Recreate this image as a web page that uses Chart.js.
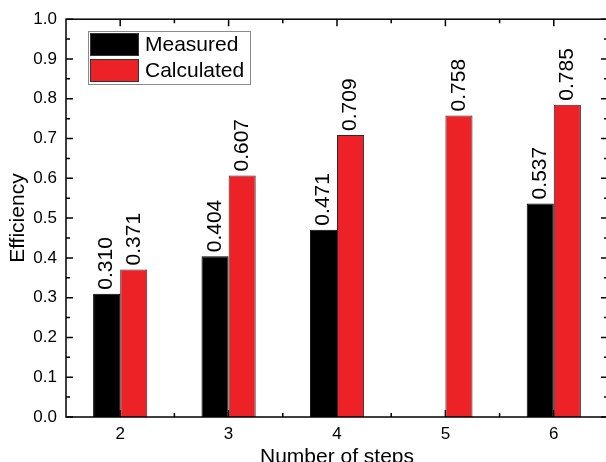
<!DOCTYPE html>
<html>
<head>
<meta charset="utf-8">
<script src="https://cdn.jsdelivr.net/npm/chart.js@4.4.0/dist/chart.umd.min.js"></script>
<style>
  html, body { margin: 0; padding: 0; overflow: hidden; background: #fff; }
  #wrap { width: 608px; height: 470px; }
</style>
</head>
<body>
<div id="wrap"><canvas id="effChart" width="608" height="470"></canvas></div>
<script>
const steps = ['2', '3', '4', '5', '6'];
const measured = [0.310, 0.404, 0.471, null, 0.537];
const calculated = [0.371, 0.607, 0.709, 0.758, 0.785];
const yTicks = [0, 0.1, 0.2, 0.3, 0.4, 0.5, 0.6, 0.7, 0.8, 0.9, 1.0];

const FONT = "'Liberation Sans', Arial, sans-serif";

// inward ticks + box frame, like the original plot
const framePlugin = {
    id: 'frame',
    beforeDatasetsDraw: (chart) => {
        const { ctx, chartArea: a, scales: { x, y } } = chart;
        ctx.save();
        ctx.strokeStyle = '#000';
        ctx.lineWidth = 1.5;
        const half = (x.getPixelForValue(1) - x.getPixelForValue(0)) / 2;
        ctx.beginPath();
        steps.forEach((s, i) => {
            const px = x.getPixelForValue(i);
            ctx.moveTo(px, a.bottom); ctx.lineTo(px, a.bottom - 7);
            ctx.moveTo(px, a.top); ctx.lineTo(px, a.top + 7);
            const mx = px + half;
            ctx.moveTo(mx, a.bottom); ctx.lineTo(mx, a.bottom - 4);
            ctx.moveTo(mx, a.top); ctx.lineTo(mx, a.top + 4);
        });
        yTicks.forEach((v, i) => {
            const py = y.getPixelForValue(v);
            ctx.moveTo(a.left, py); ctx.lineTo(a.left + 7, py);
            ctx.moveTo(a.right, py); ctx.lineTo(a.right - 7, py);
            if (i < yTicks.length - 1) {
                const my = y.getPixelForValue(v + 0.05);
                ctx.moveTo(a.left, my); ctx.lineTo(a.left + 4, my);
                ctx.moveTo(a.right, my); ctx.lineTo(a.right - 4, my);
            }
        });
        ctx.stroke();
        ctx.restore();
    },
    afterDatasetsDraw: (chart) => {
        const { ctx, chartArea: a } = chart;
        ctx.save();
        ctx.strokeStyle = '#000';
        ctx.lineWidth = 1.5;
        ctx.strokeRect(a.left, a.top, a.right - a.left, a.bottom - a.top);
        ctx.restore();
    }
};

// vertical value labels above every bar
const valueLabels = {
    id: 'valueLabels',
    afterDatasetsDraw: (chart) => {
        const { ctx } = chart;
        ctx.save();
        ctx.fillStyle = '#000';
        ctx.font = '21px ' + FONT;
        ctx.textAlign = 'left';
        ctx.textBaseline = 'middle';
        chart.data.datasets.forEach((ds, di) => {
            chart.getDatasetMeta(di).data.forEach((bar, i) => {
                const v = ds.data[i];
                if (v === null) return;
                ctx.save();
                ctx.translate(bar.x, bar.y - 4);
                ctx.rotate(-Math.PI / 2);
                ctx.fillText(v.toFixed(3), 0, 0);
                ctx.restore();
            });
        });
        ctx.restore();
    }
};

// boxed legend inside the plot, top left
const boxLegend = {
    id: 'boxLegend',
    afterDraw: (chart) => {
        const { ctx } = chart;
        const x0 = 88, y0 = 31, w = 162, rowH = 26;
        ctx.save();
        ctx.strokeStyle = '#8a8a8a';
        ctx.lineWidth = 1;
        ctx.strokeRect(x0 + 0.5, y0 + 0.5, w, rowH * 2 + 1);
        ctx.font = '21px ' + FONT;
        ctx.textBaseline = 'middle';
        ctx.textAlign = 'left';
        chart.data.datasets.forEach((ds, i) => {
            const ry = y0 + 2 + i * rowH;
            ctx.fillStyle = ds.backgroundColor;
            ctx.fillRect(x0 + 2, ry, 49, 23);
            ctx.strokeStyle = '#333';
            ctx.strokeRect(x0 + 2.5, ry + 0.5, 48, 22);
            ctx.fillStyle = '#000';
            ctx.fillText(ds.label, x0 + 57, ry + 12);
        });
        ctx.restore();
    }
};

new Chart(document.getElementById('effChart'), {
    type: 'bar',
    plugins: [framePlugin, valueLabels, boxLegend],
    data: {
        labels: steps,
        datasets: [{
            label: 'Measured',
            data: measured,
            backgroundColor: '#000000',
            borderColor: '#000000',
            borderWidth: 1
        }, {
            label: 'Calculated',
            data: calculated,
            backgroundColor: '#ED2227',
            borderColor: '#2a2a2a',
            borderWidth: 1
        }]
    },
    options: {
        responsive: false,
        animation: false,
        categoryPercentage: 0.5,
        barPercentage: 1.0,
        layout: { padding: { top: 17, left: 0, right: 0, bottom: 0 } },
        plugins: {
            legend: { display: false },
            tooltip: { enabled: false }
        },
        scales: {
            x: {
                grid: { display: false, drawTicks: false },
                border: { display: false },
                ticks: { color: '#000', font: { family: FONT, size: 17 }, padding: 7 },
                title: {
                    display: true,
                    text: 'Number of steps',
                    color: '#000',
                    font: { family: FONT, size: 21 },
                    padding: 0
                },
                afterFit: (s) => { s.height = 53; }
            },
            y: {
                min: 0,
                max: 1,
                grid: { display: false, drawTicks: false },
                border: { display: false },
                ticks: {
                    stepSize: 0.1,
                    color: '#000',
                    font: { family: FONT, size: 17 },
                    padding: 9,
                    callback: (v) => v.toFixed(1)
                },
                title: {
                    display: true,
                    text: 'Efficiency',
                    color: '#000',
                    font: { family: FONT, size: 21 },
                    padding: { top: 6, bottom: 0 }
                },
                afterFit: (s) => { s.width = 66; }
            }
        }
    }
});
</script>
</body>
</html>
